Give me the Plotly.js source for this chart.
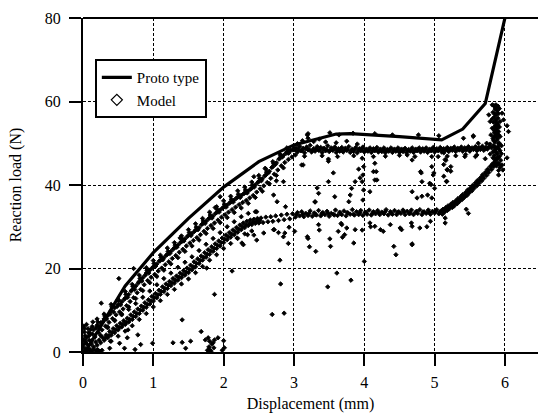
<!DOCTYPE html>
<html>
<head>
<meta charset="utf-8">
<script src="https://cdn.plot.ly/plotly-3.0.1.min.js"></script>
<style>
  html, body { margin: 0; padding: 0; background: #fff; overflow: hidden; }
  #chart { width: 538px; height: 418px; }
</style>
</head>
<body>
<div id="chart"></div>
<script>
// Prototype measurement: reaction load (N) vs displacement (mm)
const protoX = [0.00, 0.05, 0.60, 1.00, 1.50, 2.00, 2.50, 3.00, 3.60, 3.80, 4.50, 5.10, 5.40, 5.72, 6.00];
const protoY = [0.0, 0.5, 15.8, 23.8, 32.0, 39.5, 45.6, 49.6, 52.2, 52.3, 51.6, 50.8, 53.4, 59.5, 80.0];

// Model results, [displacement, load] pairs grouped by region of the curve
// upper loading branch
const bandA = [
[0.00,1.2],[0.01,3.0],[0.02,4.8],[0.01,6.2],[0.03,0.4],[0.04,2.2],
[0.05,3.4],[0.06,1.8],[0.07,5.6],[0.09,2.8],
[0.10,4.4],[0.12,2.7],[0.13,6.1],
[0.15,5.3],[0.17,3.6],
[0.20,6.4],[0.22,4.7],[0.21,7.2],
[0.25,7.0],[0.27,5.3],
[0.30,7.9],[0.32,6.2],[0.31,8.6],
[0.35,8.7],[0.37,7.1],
[0.40,9.9],[0.42,8.0],[0.41,10.8],
[0.45,10.6],[0.47,8.9],
[0.50,11.4],[0.52,9.6],[0.51,12.3],
[0.55,12.0],[0.57,10.3],
[0.60,12.9],[0.62,11.1],[0.61,13.8],
[0.65,13.8],[0.67,12.1],
[0.70,14.9],[0.72,13.0],[0.71,15.7],
[0.75,15.8],[0.77,14.2],
[0.80,16.9],[0.82,15.0],[0.81,17.6],
[0.85,17.8],[0.87,16.1],
[0.90,18.9],[0.92,17.1],[0.91,19.6],
[0.95,19.6],[0.97,17.9],
[1.00,20.4],[1.02,18.6],[1.01,21.2],
[1.05,21.1],[1.07,19.4],
[1.10,21.9],[1.12,20.1],[1.11,22.7],
[1.15,22.6],[1.17,20.9],
[1.20,23.4],[1.22,21.6],[1.21,24.1],
[1.25,24.1],[1.27,22.4],
[1.30,24.9],[1.32,23.1],[1.31,25.6],
[1.35,25.6],[1.37,23.9],
[1.40,26.4],[1.42,24.6],[1.41,27.1],
[1.45,27.1],[1.47,25.4],
[1.50,27.9],[1.52,26.1],[1.51,28.6],
[1.55,28.4],[1.57,26.7],
[1.60,29.2],[1.62,27.4],[1.61,29.9],
[1.65,29.8],[1.67,28.1],
[1.70,30.7],[1.72,28.9],[1.71,31.4],
[1.75,31.3],[1.77,29.6],
[1.80,32.1],[1.82,30.3],[1.81,32.8],
[1.85,32.6],[1.87,30.9],
[1.90,33.4],[1.92,31.6],[1.91,34.1],
[1.95,34.0],[1.97,32.3],
[2.00,34.7],[2.02,32.9],[2.01,35.4],
[2.05,35.2],[2.07,33.5],
[2.10,35.9],[2.12,34.1],[2.11,36.6],
[2.15,36.4],[2.17,34.7],
[2.20,37.1],[2.22,35.3],[2.21,37.8],
[2.25,37.5],[2.27,35.8],
[2.30,38.1],[2.32,36.3],[2.31,38.8],
[2.35,38.6],[2.37,36.9],
[2.40,39.3],[2.42,37.5],[2.41,40.0],
[2.45,40.0],[2.47,38.3],
[2.50,40.9],[2.52,39.1],[2.51,41.6],
[2.55,41.5],[2.57,39.8],
[2.60,42.4],[2.62,40.6],[2.61,43.1],
[2.65,43.3],[2.67,41.6],
[2.70,44.4],[2.72,42.6],[2.71,45.1],
[2.75,45.3],[2.77,43.6],
[2.80,46.4],[2.82,44.6],[2.81,47.0],
[2.85,47.1],[2.87,45.4],
[2.90,47.9],[2.92,46.1],[2.91,48.5],
[2.95,48.4],[2.97,46.7],
[3.00,48.8],[3.02,47.2]
];
const bandA2 = [
[0.035,2.6],[0.085,3.9],[0.135,4.3],[0.185,5.8],[0.235,6.1],[0.285,7.3],[0.335,7.9],[0.385,9.1],[0.435,9.6],[0.485,10.9],
[0.535,11.3],[0.585,12.6],[0.635,13.1],[0.685,14.6],[0.735,15.0],[0.785,16.5],[0.835,17.0],[0.885,18.4],[0.935,18.9],[0.985,20.1],
[1.035,20.6],[1.085,21.8],[1.135,22.1],[1.185,23.2],[1.235,23.6],[1.285,24.7],[1.335,25.1],[1.385,26.2],[1.435,26.6],[1.485,27.7],
[1.535,27.9],[1.585,28.9],[1.635,29.3],[1.685,30.5],[1.735,30.8],[1.785,31.9],[1.835,32.1],[1.885,33.2],[1.935,33.5],[1.985,34.5],
[2.035,34.7],[2.085,35.7],[2.135,35.9],[2.185,36.9],[2.235,37.0],[2.285,37.9],[2.335,38.1],[2.385,39.0],[2.435,39.5],[2.485,40.6],
[2.535,41.0],[2.585,42.2],[2.635,42.9],[2.685,44.2],[2.735,44.9],[2.785,46.2],[2.835,46.7],[2.885,47.6],[2.935,47.9],[2.985,48.4]
];
const bandAEdge = [
[0.20,7.9],[0.25,4.0],[0.30,9.1],[0.35,5.8],[0.40,11.4],[0.45,7.6],[0.50,12.6],[0.55,9.1],[0.60,14.5],[0.65,10.8],
[0.70,16.2],[0.75,12.8],[0.80,18.4],[0.85,14.7],[0.90,20.2],[0.95,16.6],[1.00,21.9],[1.05,18.1],[1.10,23.2],[1.15,19.6],
[1.20,24.9],[1.25,21.1],[1.30,26.2],[1.35,22.6],[1.40,27.8],[1.45,24.1],[1.50,29.3],[1.55,25.4],[1.60,30.7],[1.65,26.8],
[1.70,32.0],[1.75,28.4],[1.80,33.5],[1.85,29.6],[1.90,34.8],[1.95,31.0],[2.00,36.2],[2.05,32.2],[2.10,37.3],[2.15,33.4],
[2.20,38.6],[2.25,34.5],[2.30,39.5],[2.35,35.6],[2.40,40.7],[2.45,37.0],[2.50,42.3],[2.55,38.5],[2.60,43.8],[2.65,40.3],
[2.70,45.6],[2.75,42.3],[2.80,47.4],[2.85,44.1],[2.90,48.9]
];

// lower loading branch
const bandB = [
[0.10,0.6],[0.12,1.9],[0.15,1.2],[0.18,2.4],[0.20,1.6],[0.23,2.9],[0.25,2.2],[0.28,3.5],[0.30,2.8],[0.33,4.1],
[0.35,3.4],[0.38,4.9],[0.40,4.0],[0.43,5.6],[0.45,4.6],[0.48,6.3],[0.50,5.3],[0.53,6.9],[0.55,6.0],[0.58,7.5],
[0.60,6.6],[0.63,8.1],[0.65,7.2],[0.68,8.9],[0.70,7.8],[0.73,9.6],[0.75,8.5],[0.78,10.3],[0.80,9.2],[0.83,11.0],
[0.85,10.0],[0.88,11.8],[0.90,10.7],[0.93,12.5],[0.95,11.5],[0.98,13.3],[1.00,12.2],[1.03,14.0],[1.05,13.0],[1.08,14.8],
[1.10,13.8],[1.13,15.6],[1.15,14.5],[1.18,16.3],[1.20,15.2],[1.23,16.9],[1.25,15.9],[1.28,17.6],[1.30,16.5],[1.33,18.2],
[1.35,17.2],[1.38,18.9],[1.40,17.8],[1.43,19.5],[1.45,18.4],[1.48,20.1],[1.50,19.0],[1.53,20.8],[1.55,19.7],[1.58,21.6],
[1.60,20.4],[1.63,22.3],[1.65,21.2],[1.68,23.0],[1.70,22.0],[1.73,23.8],[1.75,22.7],[1.78,24.5],[1.80,23.4],[1.83,25.2],
[1.85,24.1],[1.88,25.9],[1.90,24.8],[1.93,26.6],[1.95,25.4],[1.98,27.3],[2.00,26.2],[2.03,28.0],[2.05,26.9],[2.08,28.6],
[2.10,27.5],[2.13,29.2],[2.15,28.1],[2.18,29.8],[2.20,28.7],[2.23,30.4],[2.25,29.3],[2.28,30.9],[2.30,29.8],[2.33,31.3],
[2.35,30.3],[2.38,31.6],[2.40,30.5],[2.43,31.8],[2.45,30.8],[2.48,32.0],[2.50,30.9],[2.53,32.1],[2.56,31.0],[2.60,32.3],
[2.63,31.2],[2.67,32.4],[2.70,31.3],[2.74,32.6],[2.78,31.5],[2.82,32.8],[2.86,31.7],[2.90,33.0],[2.94,31.9],[2.98,33.1]
];
const bandB2 = [
[0.315,3.3],[0.365,3.9],[0.415,4.7],[0.465,5.3],[0.515,5.9],[0.565,6.6],[0.615,7.1],[0.665,7.8],[0.715,8.5],[0.765,9.2],
[0.815,10.0],[0.865,10.7],[0.915,11.4],[0.965,12.2],[1.015,13.0],[1.065,13.7],[1.115,14.5],[1.165,15.2],[1.215,16.0],[1.265,16.6],
[1.315,17.2],[1.365,17.9],[1.415,18.5],[1.465,19.1],[1.515,19.7],[1.565,20.4],[1.615,21.2],[1.665,21.9],[1.715,22.7],[1.765,23.4],
[1.815,24.2],[1.865,24.8],[1.915,25.5],[1.965,26.2],[2.015,27.0],[2.065,27.6],[2.115,28.2],[2.165,28.8],[2.215,29.4],[2.265,30.0],
[2.315,30.4],[2.365,30.8],[2.415,31.1],[2.465,31.3],[2.515,31.5]
];
const bandBEdge = [
[0.35,6.0],[0.40,2.6],[0.45,7.5],[0.50,3.8],[0.55,8.9],[0.60,5.0],[0.65,10.2],[0.70,6.3],[0.75,11.6],[0.80,7.8],
[0.85,13.1],[0.90,9.2],[0.95,14.6],[1.00,10.8],[1.05,16.1],[1.10,12.3],[1.15,17.6],[1.20,13.8],[1.25,18.9],[1.30,15.0],
[1.35,20.3],[1.40,16.3],[1.45,21.5],[1.50,17.5],[1.55,22.8],[1.60,19.0],[1.65,24.3],[1.70,20.5],[1.75,25.8],[1.80,22.0],
[1.85,27.2],[1.90,23.3],[1.95,28.6],[2.00,24.8],[2.05,30.0],[2.10,26.0],[2.15,31.2],[2.20,27.2],[2.25,32.4],[2.30,28.3],
[2.35,33.2],[2.40,29.0],[2.45,33.6]
];

// lower plateau (about 33 N)
const plateauL = [
[3.02,32.3],[3.05,33.4],[3.08,32.6],[3.11,33.6],[3.14,32.4],[3.17,33.2],[3.20,32.7],[3.23,33.8],[3.26,32.5],[3.29,33.3],
[3.32,32.8],[3.35,33.9],[3.38,32.6],[3.41,33.4],[3.44,32.9],[3.47,33.7],[3.50,32.5],[3.53,33.2],[3.56,33.0],[3.59,34.0],
[3.62,32.7],[3.65,33.5],[3.68,32.9],[3.71,33.8],[3.74,32.6],[3.77,33.3],[3.80,33.0],[3.83,34.1],[3.86,32.8],[3.89,33.6],
[3.92,32.9],[3.95,33.9],[3.98,32.7],[4.01,33.4],[4.04,33.0],[4.07,34.0],[4.10,32.8],[4.13,33.6],[4.16,33.1],[4.19,33.9],
[4.22,32.9],[4.25,33.5],[4.28,33.1],[4.31,34.1],[4.34,32.8],[4.37,33.6],[4.40,33.0],[4.43,33.9],[4.46,32.9],[4.49,33.6],
[4.52,33.2],[4.55,34.0],[4.58,32.9],[4.61,33.7],[4.64,33.1],[4.67,34.0],[4.70,32.9],[4.73,33.5],[4.76,33.2],[4.79,34.1],
[4.82,32.9],[4.85,33.6],[4.88,33.2],[4.91,34.0],[4.94,33.0],[4.97,33.7],[5.00,33.3],[5.03,34.1],[5.06,33.1],[5.09,33.8]
];
const plateauL2 = [
[3.035,32.9],[3.125,33.0],[3.215,33.2],[3.305,32.9],[3.395,33.1],[3.485,33.2],[3.575,32.8],[3.665,33.1],[3.755,33.4],[3.845,33.0],
[3.935,33.3],[4.025,33.5],[4.115,33.2],[4.205,33.4],[4.295,33.6],[4.385,33.3],[4.475,33.4],[4.565,33.6],[4.655,33.3],[4.745,33.7],
[4.835,33.5],[4.925,33.4],[5.015,33.7],[5.075,33.5]
];

// rising branch at the end of the lower plateau
const riseBand = [
[5.11,33.0],[5.12,34.2],[5.14,33.5],[5.16,34.6],[5.18,33.9],[5.19,35.0],[5.21,34.3],[5.23,35.4],[5.25,34.6],[5.26,35.8],
[5.28,35.0],[5.30,36.2],[5.32,35.5],[5.33,36.7],[5.35,36.0],[5.37,37.2],[5.39,36.5],[5.40,37.7],[5.42,37.0],[5.44,38.2],
[5.46,37.5],[5.47,38.8],[5.49,38.1],[5.51,39.3],[5.53,38.6],[5.54,39.9],[5.56,39.2],[5.58,40.5],[5.60,39.8],[5.61,41.1],
[5.63,40.4],[5.65,41.7],[5.67,41.0],[5.68,42.4],[5.70,41.6],[5.72,43.0],[5.74,42.3],[5.75,43.7],[5.77,43.0],[5.79,44.4],
[5.81,43.7],[5.82,45.0],[5.84,44.4],[5.86,45.7],[5.87,45.0],[5.89,46.3]
];
const riseBand2 = [
[5.125,33.7],[5.165,34.2],[5.205,34.7],[5.245,35.1],[5.285,35.6],[5.325,36.1],[5.365,36.6],[5.405,37.2],[5.445,37.7],[5.485,38.4],
[5.525,39.0],[5.565,39.8],[5.605,40.5],[5.645,41.2],[5.685,42.0],[5.725,42.8],[5.765,43.6],[5.805,44.5],[5.845,45.3]
];

// upper plateau (about 48 N)
const plateauU = [
[3.03,48.9],[3.05,47.9],[3.08,49.3],[3.10,48.2],[3.13,48.8],[3.15,47.7],[3.18,49.1],[3.20,48.4],[3.23,49.5],[3.25,47.9],
[3.28,48.7],[3.30,48.1],[3.33,49.2],[3.35,48.3],[3.38,49.0],[3.40,47.8],[3.43,48.8],[3.45,48.2],[3.48,49.4],[3.50,48.0],
[3.53,48.9],[3.55,48.3],[3.58,49.1],[3.60,47.8],[3.63,48.7],[3.65,48.1],[3.68,49.0],[3.70,47.9],[3.73,48.8],[3.75,48.3],
[3.78,49.2],[3.80,47.8],[3.83,48.6],[3.85,48.0],[3.88,49.0],[3.90,47.7],[3.93,48.7],[3.95,48.2],[3.98,49.1],[4.00,47.9],
[4.03,48.6],[4.05,48.1],[4.08,48.9],[4.10,47.8],[4.13,48.7],[4.15,48.2],[4.18,49.0],[4.20,47.9],[4.23,48.6],[4.25,48.0],
[4.28,48.9],[4.30,47.7],[4.33,48.5],[4.35,48.1],[4.38,48.9],[4.40,47.8],[4.43,48.6],[4.45,48.1],[4.48,48.9],[4.50,47.8],
[4.53,48.6],[4.55,48.0],[4.58,48.8],[4.60,47.7],[4.63,48.5],[4.65,48.1],[4.68,48.9],[4.70,47.8],[4.73,48.6],[4.75,48.2],
[4.78,48.9],[4.80,47.9],[4.83,48.7],[4.85,48.1],[4.88,48.9],[4.90,47.8],[4.93,48.6],[4.95,48.2],[4.98,49.0],[5.00,47.9],
[5.03,48.7],[5.05,48.2],[5.08,49.0],[5.10,47.9],[5.13,48.7],[5.15,48.3],[5.18,49.0],[5.20,48.0],[5.23,48.8],[5.25,48.3],
[5.28,49.1],[5.30,48.0],[5.33,48.8],[5.35,48.4],[5.38,49.1],[5.40,48.1],[5.43,48.9],[5.45,48.4],[5.48,49.2],[5.50,48.1],
[5.53,48.9],[5.55,48.5],[5.58,49.2],[5.60,48.2],[5.63,49.0],[5.65,48.5],[5.68,49.3],[5.70,48.3],[5.73,49.0],[5.75,48.6],
[5.78,49.3]
];
const plateauU2 = [
[3.015,48.4],[3.065,48.6],[3.115,48.3],[3.165,48.7],[3.215,48.5],[3.265,48.3],[3.315,48.6],[3.365,48.4],[3.415,48.7],[3.465,48.5],
[3.515,48.3],[3.565,48.6],[3.615,48.4],[3.665,48.6],[3.715,48.3],[3.765,48.5],[3.815,48.2],[3.865,48.5],[3.915,48.3],[3.965,48.6],
[4.015,48.2],[4.065,48.4],[4.115,48.3],[4.165,48.5],[4.215,48.2],[4.265,48.4],[4.315,48.2],[4.365,48.5],[4.415,48.3],[4.465,48.4],
[4.515,48.2],[4.565,48.5],[4.615,48.3],[4.665,48.4],[4.715,48.2],[4.765,48.5],[4.815,48.3],[4.865,48.5],[4.915,48.2],[4.965,48.6],
[5.015,48.3],[5.065,48.5],[5.115,48.4],[5.165,48.6],[5.215,48.4],[5.265,48.7],[5.315,48.5],[5.365,48.7],[5.415,48.5],[5.465,48.8],
[5.515,48.6],[5.565,48.8],[5.615,48.6],[5.665,48.9],[5.715,48.7],[5.765,48.9]
];

// near-vertical cluster at the end of travel
const vertBand = [
[5.84,59.0],[5.87,59.2],[5.90,58.9],[5.86,58.2],[5.89,57.8],[5.92,58.3],[5.83,57.4],[5.88,56.9],[5.91,57.1],[5.85,56.3],
[5.90,56.0],[5.87,55.5],[5.93,55.2],[5.84,55.0],[5.89,54.6],[5.86,54.1],[5.92,53.9],[5.82,53.6],[5.88,53.2],[5.91,52.8],
[5.85,52.5],[5.80,52.0],[5.87,51.8],[5.93,51.6],[5.83,51.1],[5.89,50.8],[5.86,50.3],[5.92,50.0],[5.79,49.8],[5.84,49.5],
[5.90,49.2],[5.95,49.4],[5.81,48.9],[5.87,48.6],[5.93,48.2],[5.83,47.9],[5.89,47.5],[5.85,47.0],[5.92,46.8],[5.87,46.2],
[5.94,45.9],[5.90,45.3],[5.88,44.6],[5.93,44.2],[5.91,43.5],[5.96,44.8],[5.86,53.7],[5.82,55.8],[5.90,54.4],[5.88,52.3],
[5.84,50.6],[5.91,49.9],[5.85,48.3],[5.79,47.4],[5.95,47.5]
];
const vertBand2 = [
[5.86,57.0],[5.88,55.0],[5.85,53.0],[5.89,51.2],[5.86,49.0],[5.88,47.8],[5.90,46.6],[5.87,44.9],[5.91,52.0],[5.87,58.6],
[5.89,53.8],[5.84,51.5],[5.91,48.7],[5.83,46.5],[5.92,45.0]
];

// scattered points outside the main branches
const strayPoints = [
[0.02,0.2],[0.04,0.8],[0.06,0.3],[0.09,0.5],[0.12,0.2],[0.15,0.6],[0.18,0.3],[0.21,0.5],[0.24,0.2],[0.27,0.4],
[0.20,0.5],[0.01,1.9],[0.03,3.9],[0.02,5.6],[0.05,6.6],[0.08,4.6],[0.11,5.4],[0.14,7.2],
[0.26,11.7],[0.51,17.6],[0.72,20.0],[0.39,2.6],[0.38,0.9],[0.52,2.1],[0.59,0.9],[0.63,3.4],[0.64,5.3],[0.74,0.6],
[0.78,4.1],[0.82,1.8],[0.99,2.1],[1.28,2.2],[1.41,2.3],[1.41,7.7],[1.46,0.9],[1.53,2.6],[1.68,4.9],[1.87,13.8],
[1.76,20.1],[2.12,19.4],[1.38,27.3],[1.88,34.6],[1.95,37.2],
[1.74,2.9],[1.78,3.4],[1.80,2.6],[1.83,1.9],[1.85,2.2],[1.79,1.2],[1.80,0.6],[1.77,0.4],[1.87,2.9],[1.86,1.0],
[1.92,3.4],[2.00,2.7],[2.01,1.0],[1.98,0.4],[1.82,0.2],
[2.26,26.1],[2.34,28.1],[2.47,33.6],[2.19,27.3],[2.28,25.7],[2.43,28.0],[2.47,26.8],[2.57,28.5],[2.71,29.3],[2.85,27.6],
[2.92,26.0],[2.72,29.3],[2.78,28.6],[2.87,28.5],[2.93,29.9],[3.01,28.9],[3.19,27.6],[3.22,25.2],[3.20,27.2],[3.36,29.2],
[3.35,30.5],[3.51,27.1],[3.52,25.3],[3.31,24.1],[3.63,28.9],[3.68,30.5],[3.67,30.8],[3.72,28.1],[3.75,29.7],[3.69,27.5],
[3.85,26.1],[3.87,29.3],[3.97,29.2],[4.08,30.9],[4.09,30.0],[4.15,30.1],[4.23,29.3],[4.27,28.9],[4.37,30.5],[4.42,25.3],
[4.45,23.3],[4.51,29.7],[4.53,29.3],[4.67,30.9],[4.68,25.7],[4.68,30.1],[4.79,29.7],[4.89,30.0],[4.94,31.3],[5.15,30.9],
[5.15,32.1],
[2.69,9.0],[2.86,9.3],[2.81,16.3],[2.80,22.0],[3.48,15.6],[3.61,18.9],[3.81,17.2],[4.00,21.7],[4.68,25.9],
[2.43,42.0],[2.59,44.0],[2.75,41.0],[2.85,40.8],[2.71,37.6],[2.76,36.0],[2.88,34.8],[3.11,44.8],[3.13,44.8],[3.33,39.3],
[3.30,36.0],[3.30,35.9],[3.35,38.0],[3.49,40.8],[3.49,45.7],[3.49,46.2],[3.56,42.9],[3.58,37.2],[3.92,43.8],[3.94,41.7],
[3.97,46.4],[3.99,44.4],[3.98,42.4],[3.97,40.8],[3.99,38.8],[3.98,36.4],[4.13,46.8],[4.15,45.2],[4.17,43.2],[4.15,41.2],
[4.08,38.4],[4.13,43.2],[4.18,41.2],[3.87,40.8],[3.82,39.2],[3.80,37.6],[3.78,36.0],[4.61,47.2],[4.68,46.0],[4.72,46.8],
[4.80,43.2],[4.82,40.8],[4.81,42.9],[4.68,38.4],[4.75,36.9],[4.82,37.3],[4.90,37.6],[4.96,46.8],[4.96,44.4],[4.98,42.4],
[4.93,40.4],[5.00,39.2],[4.96,36.9],[4.99,42.9],[4.95,40.1],[5.13,47.7],[5.18,46.9],[5.15,46.1],[5.13,44.9],[5.18,43.7],
[5.23,43.3],[5.13,42.1],[5.17,40.9],[5.23,44.4],[5.16,45.9],[5.18,43.6],[5.17,40.8],[5.43,46.8],[5.60,47.2],[5.44,47.3],
[5.58,46.8],[5.72,46.3],[5.45,34.2],[5.48,33.2],[2.92,47.6],
[3.15,46.9],[3.40,47.0],[3.62,46.8],[3.85,47.0],[4.30,46.9],[4.50,47.1],[5.05,46.8],[5.30,47.0],
[3.05,49.9],[3.12,50.6],[3.20,51.2],[3.28,50.4],[3.36,51.0],[3.45,50.3],[3.60,50.1],[3.75,50.5],[3.90,49.8],[3.19,52.0],
[3.20,52.3],[3.51,52.5],[3.64,52.0],[3.84,52.4],[4.15,52.3],[4.40,52.0],[4.77,52.0],[5.06,51.8],[5.41,51.2],[5.55,51.6],
[5.55,51.8],[5.62,50.0],[5.74,50.0],
[5.77,56.8],[5.96,57.2],[5.82,59.2],[5.98,55.6],[5.79,55.2],[6.03,54.2],[6.05,52.8],[6.03,46.5],[5.91,42.4],[5.97,43.6]
];

const xTicks = [0, 1, 2, 3, 4, 5, 6];
const yTicks = [0, 20, 40, 60, 80];

const modelPts = bandA.concat(bandA2, bandAEdge, bandB, bandB2, bandBEdge, plateauL, plateauL2,
                              riseBand, riseBand2, plateauU, plateauU2, vertBand, vertBand2, strayPoints);
const modelX = modelPts.map(p => p[0]);
const modelY = modelPts.map(p => p[1]);

const serif = '"Liberation Serif", "Times New Roman", serif';

const traces = [
  {
    type: 'scatter', mode: 'markers', name: 'Model',
    x: modelX, y: modelY,
    showlegend: false,
    marker: { symbol: 'diamond', size: 3.4, color: '#000', line: { width: 0.9, color: '#000' } },
    hoverinfo: 'x+y'
  },
  {
    type: 'scatter', mode: 'lines', name: 'Proto type',
    x: protoX, y: protoY,
    line: { color: '#000', width: 3.2 }
  },
  {
    // legend key for the model series (larger symbol than the data markers)
    type: 'scatter', mode: 'markers', name: 'Model',
    x: [null], y: [null],
    marker: { symbol: 'diamond-open', size: 8.5, color: '#000', line: { width: 1.2, color: '#000' } }
  }
];

const layout = {
  width: 538, height: 418,
  margin: { l: 83, r: 0, t: 18, b: 66 },
  paper_bgcolor: '#fff', plot_bgcolor: '#fff',
  font: { family: serif, size: 16, color: '#000' },
  showlegend: true,
  legend: {
    x: 0.026, y: 0.877, xanchor: 'left', yanchor: 'top',
    bgcolor: '#fff', bordercolor: '#000', borderwidth: 2,
    font: { family: serif, size: 15, color: '#000' },
    traceorder: 'normal'
  },
  xaxis: {
    range: [0, 6.47], tickvals: xTicks, ticktext: xTicks.map(String),
    showline: true, linecolor: '#000', linewidth: 2,
    ticks: 'outside', ticklen: 12, tickwidth: 2, tickcolor: '#000',
    showgrid: true, gridcolor: '#000', gridwidth: 1, griddash: '3px,2px',
    zeroline: false,
    tickfont: { family: serif, size: 16, color: '#000' },
    ticklabelstandoff: 3,
    title: { text: 'Displacement (mm)', font: { family: serif, size: 16, color: '#000' }, standoff: 8 }
  },
  yaxis: {
    range: [0, 80], tickvals: yTicks, ticktext: yTicks.map(String),
    showline: true, linecolor: '#000', linewidth: 2,
    ticks: 'outside', ticklen: 12, tickwidth: 2, tickcolor: '#000',
    showgrid: true, gridcolor: '#000', gridwidth: 1, griddash: '3px,2px',
    zeroline: false,
    tickfont: { family: serif, size: 16, color: '#000' },
    ticklabelstandoff: 5,
    title: { text: 'Reaction load (N)', font: { family: serif, size: 16, color: '#000' }, standoff: 19 }
  },
  shapes: [
    { type: 'line', xref: 'paper', yref: 'paper', x0: 0, x1: 1, y0: 1, y1: 1,
      line: { color: '#000', width: 2 } }
  ]
};

Plotly.newPlot('chart', traces, layout, { displayModeBar: false, staticPlot: true });
</script>
</body>
</html>
